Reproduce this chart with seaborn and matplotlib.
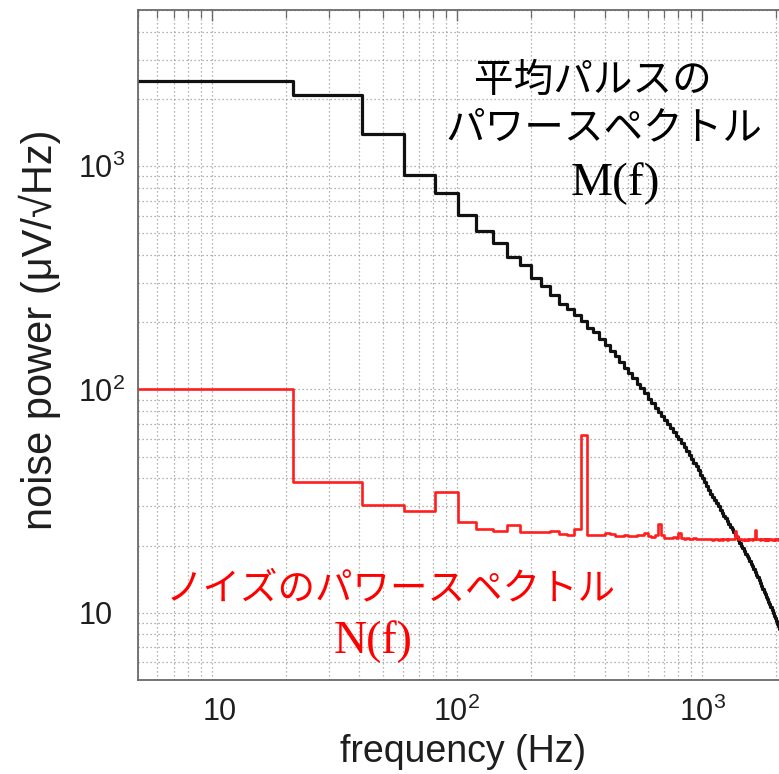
import matplotlib
matplotlib.use("Agg")
import matplotlib.pyplot as plt
import matplotlib.ticker as mticker
import matplotlib.transforms as mtransforms
import seaborn as sns
import pandas as pd

# FFT bin start frequencies (Hz), ~20 Hz bins (first edges)
freq_hz = [
    0, 21.5, 41, 61, 81, 101, 120, 140, 160, 180,
    200, 220, 240, 260, 280, 300, 320, 340, 360, 380,
    400, 420, 440, 460, 480, 500, 520, 540, 560, 580,
    600, 620, 640, 660, 680, 700, 720, 740, 760, 780,
    800, 820, 840, 860, 880, 900, 920, 940, 960, 980,
    1000, 1020, 1040, 1060, 1080, 1100, 1120, 1140, 1160, 1180,
    1200, 1220, 1240, 1260, 1280, 1300, 1320, 1340, 1360, 1380,
    1400, 1420, 1440, 1460, 1480, 1500, 1520, 1540, 1560, 1580,
    1600, 1620, 1640, 1660, 1680, 1700, 1720, 1740, 1760, 1780,
    1800, 1820, 1840, 1860, 1880, 1900, 1920, 1940, 1960, 1980,
    2000, 2020, 2040, 2060, 2080, 2100, 2120, 2140,
]

# mean pulse power spectrum M(f)  (uV/sqrt(Hz))
mean_pulse = [
    2410, 2084, 1393, 911, 757, 607, 514, 454, 390, 360,
    314, 291, 264, 242, 229, 216, 202, 189, 180, 168,
    158, 149, 141, 133, 125, 118, 112, 106, 101, 96,
    91, 87, 83, 79, 76, 73, 70, 67, 64.5, 62,
    60, 57.5, 55, 53, 51, 49, 47, 45.5, 43.5, 41.5,
    40, 38.5, 37, 35.5, 34, 33, 32, 31, 30, 29,
    28, 27.2, 26.5, 25.8, 25, 24.3, 23.6, 23, 22.4, 21.8,
    21.1, 20.5, 20.0, 19.4, 18.9, 18.4, 18.0, 17.5, 17.0, 16.6,
    16.2, 15.7, 15.2, 14.8, 14.4, 14.0, 13.6, 13.2, 12.8, 12.4,
    12.1, 11.8, 11.5, 11.2, 10.9, 10.6, 10.3, 10.0, 9.7, 9.5,
    9.2, 8.9, 8.7, 8.5, 8.3, 8.1, 7.9, 7.7,
]

# noise power spectrum N(f)  (uV/sqrt(Hz))
noise = [
    100, 38.4, 30.3, 28.5, 34.6, 25.6, 23.6, 23.2, 24.6, 23.0,
    23.0, 23.0, 23.2, 22.5, 22.4, 23.6, 62.4, 22.4, 22.3, 22.4,
    22.8, 22.6, 22.1, 22.0, 22.3, 22.1, 22.0, 22.2, 22.4, 22.7,
    22.0, 21.8, 22.4, 25.0, 22.3, 21.6, 21.7, 21.6, 21.8, 21.6,
    22.7, 21.7, 21.5, 21.6, 21.4, 21.5, 21.6, 21.4, 21.3, 21.5,
    21.4, 21.3, 21.5, 21.3, 21.4, 21.2, 21.3, 21.4, 21.2, 21.3,
    21.2, 21.4, 21.3, 21.2, 21.3, 21.4, 21.5, 21.3, 23.2, 22.0,
    21.5, 21.3, 21.4, 21.2, 21.3, 21.1, 21.3, 21.2, 21.4, 21.3,
    21.2, 21.3, 23.4, 21.5, 21.3, 21.4, 21.2, 21.3, 21.4, 21.2,
    21.3, 21.1, 21.3, 21.2, 21.4, 21.3, 21.2, 21.1, 21.3, 21.2,
    21.4, 21.3, 21.2, 21.3, 21.2, 21.3, 21.2, 21.3,
]

x_ticks = [10, 100, 1000]
x_tick_labels = [r"$\mathregular{10}$", r"$\mathregular{10^{2}}$", r"$\mathregular{10^{3}}$"]
y_ticks = [10, 100, 1000]
y_tick_labels = [r"$\mathregular{10}$", r"$\mathregular{10^{2}}$", r"$\mathregular{10^{3}}$"]

sns.set_theme(style="white")
plt.rcParams["font.family"] = ["Liberation Sans", "DejaVu Sans"]
plt.rcParams["mathtext.fontset"] = "custom"
plt.rcParams["mathtext.rm"] = "Liberation Sans"
plt.rcParams["mathtext.it"] = "Liberation Sans:italic"

W, H = 779, 774
fig = plt.figure(figsize=(W / 100, H / 100), dpi=100)
fig.patch.set_facecolor("white")
ax = fig.add_axes([138 / W, 1 - 680 / H, 1 - 138 / W + 0.004, 670 / H])
ax.set_facecolor("white")

df = pd.DataFrame({"freq": freq_hz, "M": mean_pulse, "N": noise})
sns.lineplot(data=df, x="freq", y="M", ax=ax, color="#111111", lw=2.3,
             drawstyle="steps-post", estimator=None, sort=False)
sns.lineplot(data=df, x="freq", y="N", ax=ax, color="#ff1e1e", lw=1.9,
             drawstyle="steps-post", estimator=None, sort=False)

ax.set_xscale("log", nonpositive="clip")
ax.set_yscale("log")
ax.set_xlim(5, 2120)
ax.set_ylim(5, 5000)

ax.set_xticks(x_ticks)
ax.set_xticklabels(x_tick_labels)
ax.set_yticks(y_ticks)
ax.set_yticklabels(y_tick_labels)
ax.xaxis.set_minor_formatter(mticker.NullFormatter())
ax.yaxis.set_minor_formatter(mticker.NullFormatter())

ax.grid(True, which="both", linestyle=(0, (1, 2.2)), color="#9a9a9a", lw=0.9)
ax.set_axisbelow(True)

for side in ["left", "bottom", "top"]:
    ax.spines[side].set_visible(True)
    ax.spines[side].set_color("#6a6a6a")
    ax.spines[side].set_linewidth(1.3)
ax.spines["right"].set_visible(False)

ax.tick_params(which="both", direction="in", color="#6a6a6a", top=True,
               labelsize=22, labelcolor="#1e1e1e")
ax.tick_params(which="major", length=8, width=1.0)
ax.tick_params(which="minor", length=6, width=0.9)
ax.tick_params(axis="y", pad=9)
ax.tick_params(axis="x", pad=12)

# MATLAB-style placement: plain "10" sits where the base of "10^n" would be
xt0 = ax.xaxis.get_major_ticks()[0].label1
xt0.set_transform(xt0.get_transform() + mtransforms.ScaledTranslation(8 / 100, 0, fig.dpi_scale_trans))
yt0 = ax.yaxis.get_major_ticks()[0].label1
yt0.set_transform(yt0.get_transform() + mtransforms.ScaledTranslation(-13 / 100, 0, fig.dpi_scale_trans))

ax.set_xlabel("frequency (Hz)", fontsize=27, color="#1e1e1e")
ax.set_ylabel("noise power (\u03bcV/\u221aHz)", fontsize=30, color="#1e1e1e")
ax.xaxis.set_label_coords((461 - 138) / 641, (680 - 752) / 670)
ax.xaxis.label.set_va("center")
ax.yaxis.set_label_coords((40 - 138) / 641, (680 - 330) / 670)
ax.yaxis.label.set_va("center")

jp = ["Noto Sans CJK JP", "DejaVu Sans"]
serif = ["Liberation Serif", "DejaVu Serif"]
fig.text(593 / W, 1 - 81 / H, "平均パルスの", family=jp, fontsize=28.5,
         color="black", ha="center", va="center")
fig.text(604 / W, 1 - 128 / H, "パワースペクトル", family=jp, fontsize=28.5,
         color="black", ha="center", va="center")
fig.text(615 / W, 1 - 184 / H, "M(f)", family=serif, fontsize=34,
         color="black", ha="center", va="center")
fig.text(391 / W, 1 - 589 / H, "ノイズのパワースペクトル", family=jp, fontsize=27,
         color="#ff0000", ha="center", va="center")
fig.text(373 / W, 1 - 642 / H, "N(f)", family=serif, fontsize=33,
         color="#ff0000", ha="center", va="center")

fig.savefig("out.png", dpi=100, facecolor="white")
